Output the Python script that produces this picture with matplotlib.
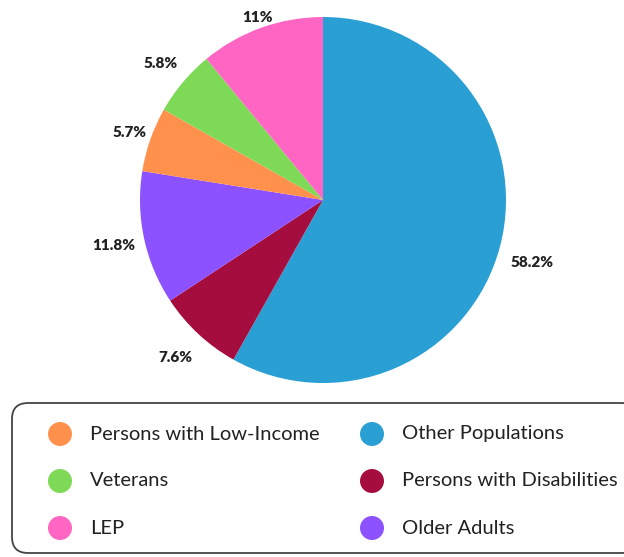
import matplotlib.pyplot as plt
from matplotlib.patches import FancyBboxPatch, Circle
import numpy as np

# pie data, clockwise from 12 o'clock
groups = ["Other Populations", "Persons with Disabilities", "Older Adults",
          "Persons with Low-Income", "Veterans", "LEP"]
shares = [58.2, 7.6, 11.8, 5.7, 5.8, 11.0]
pct_labels = ["58.2%", "7.6%", "11.8%", "5.7%", "5.8%", "11%"]
colors = ["#299FD4", "#A50D3F", "#8C52FF", "#FF914D", "#7ED957", "#FF66C4"]

# legend order as shown in the box (column by column)
legend_order = ["Persons with Low-Income", "Veterans", "LEP",
                "Other Populations", "Persons with Disabilities", "Older Adults"]

W, H = 624, 557
fig = plt.figure(figsize=(W / 100, H / 100), dpi=100)
ax = fig.add_axes([0, 0, 1, 1])

cx, cy, r = 323, H - 200, 183
wedges, _ = ax.pie(shares, colors=colors, startangle=90, counterclock=False,
                   center=(cx, cy), radius=r,
                   wedgeprops=dict(linewidth=0))

# label distance (x radius) for each slice
label_r = [1.19, 1.18, 1.17, 1.12, 1.16, 1.06]
for w, txt, k in zip(wedges, pct_labels, label_r):
    ang = np.deg2rad((w.theta1 + w.theta2) / 2 - 2 * (k > 1.185))
    ax.text(cx + k * r * np.cos(ang), cy + k * r * np.sin(ang), txt,
            ha="center", va="center", fontsize=11, fontweight="heavy",
            color="#222222", family="Lato")

# legend box
box = FancyBboxPatch((12, H - 553), 625, 150,
                     boxstyle="round,pad=0,rounding_size=16",
                     facecolor="white", edgecolor="#444444", linewidth=1.3)
ax.add_patch(box)

col_x = [60, 372]
row_y = [434, 481, 528]
for i, name in enumerate(legend_order):
    c = colors[groups.index(name)]
    x = col_x[i // 3]
    y = H - row_y[i % 3]
    ax.add_patch(Circle((x, y), 12, facecolor=c, edgecolor="none"))
    ax.text(x + 30, y, name, ha="left", va="center", fontsize=14.5,
            color="#222222", family="Lato")

ax.set_xlim(0, W)
ax.set_ylim(0, H)
ax.set_aspect("equal")
ax.axis("off")

fig.savefig("out.png", dpi=100)
